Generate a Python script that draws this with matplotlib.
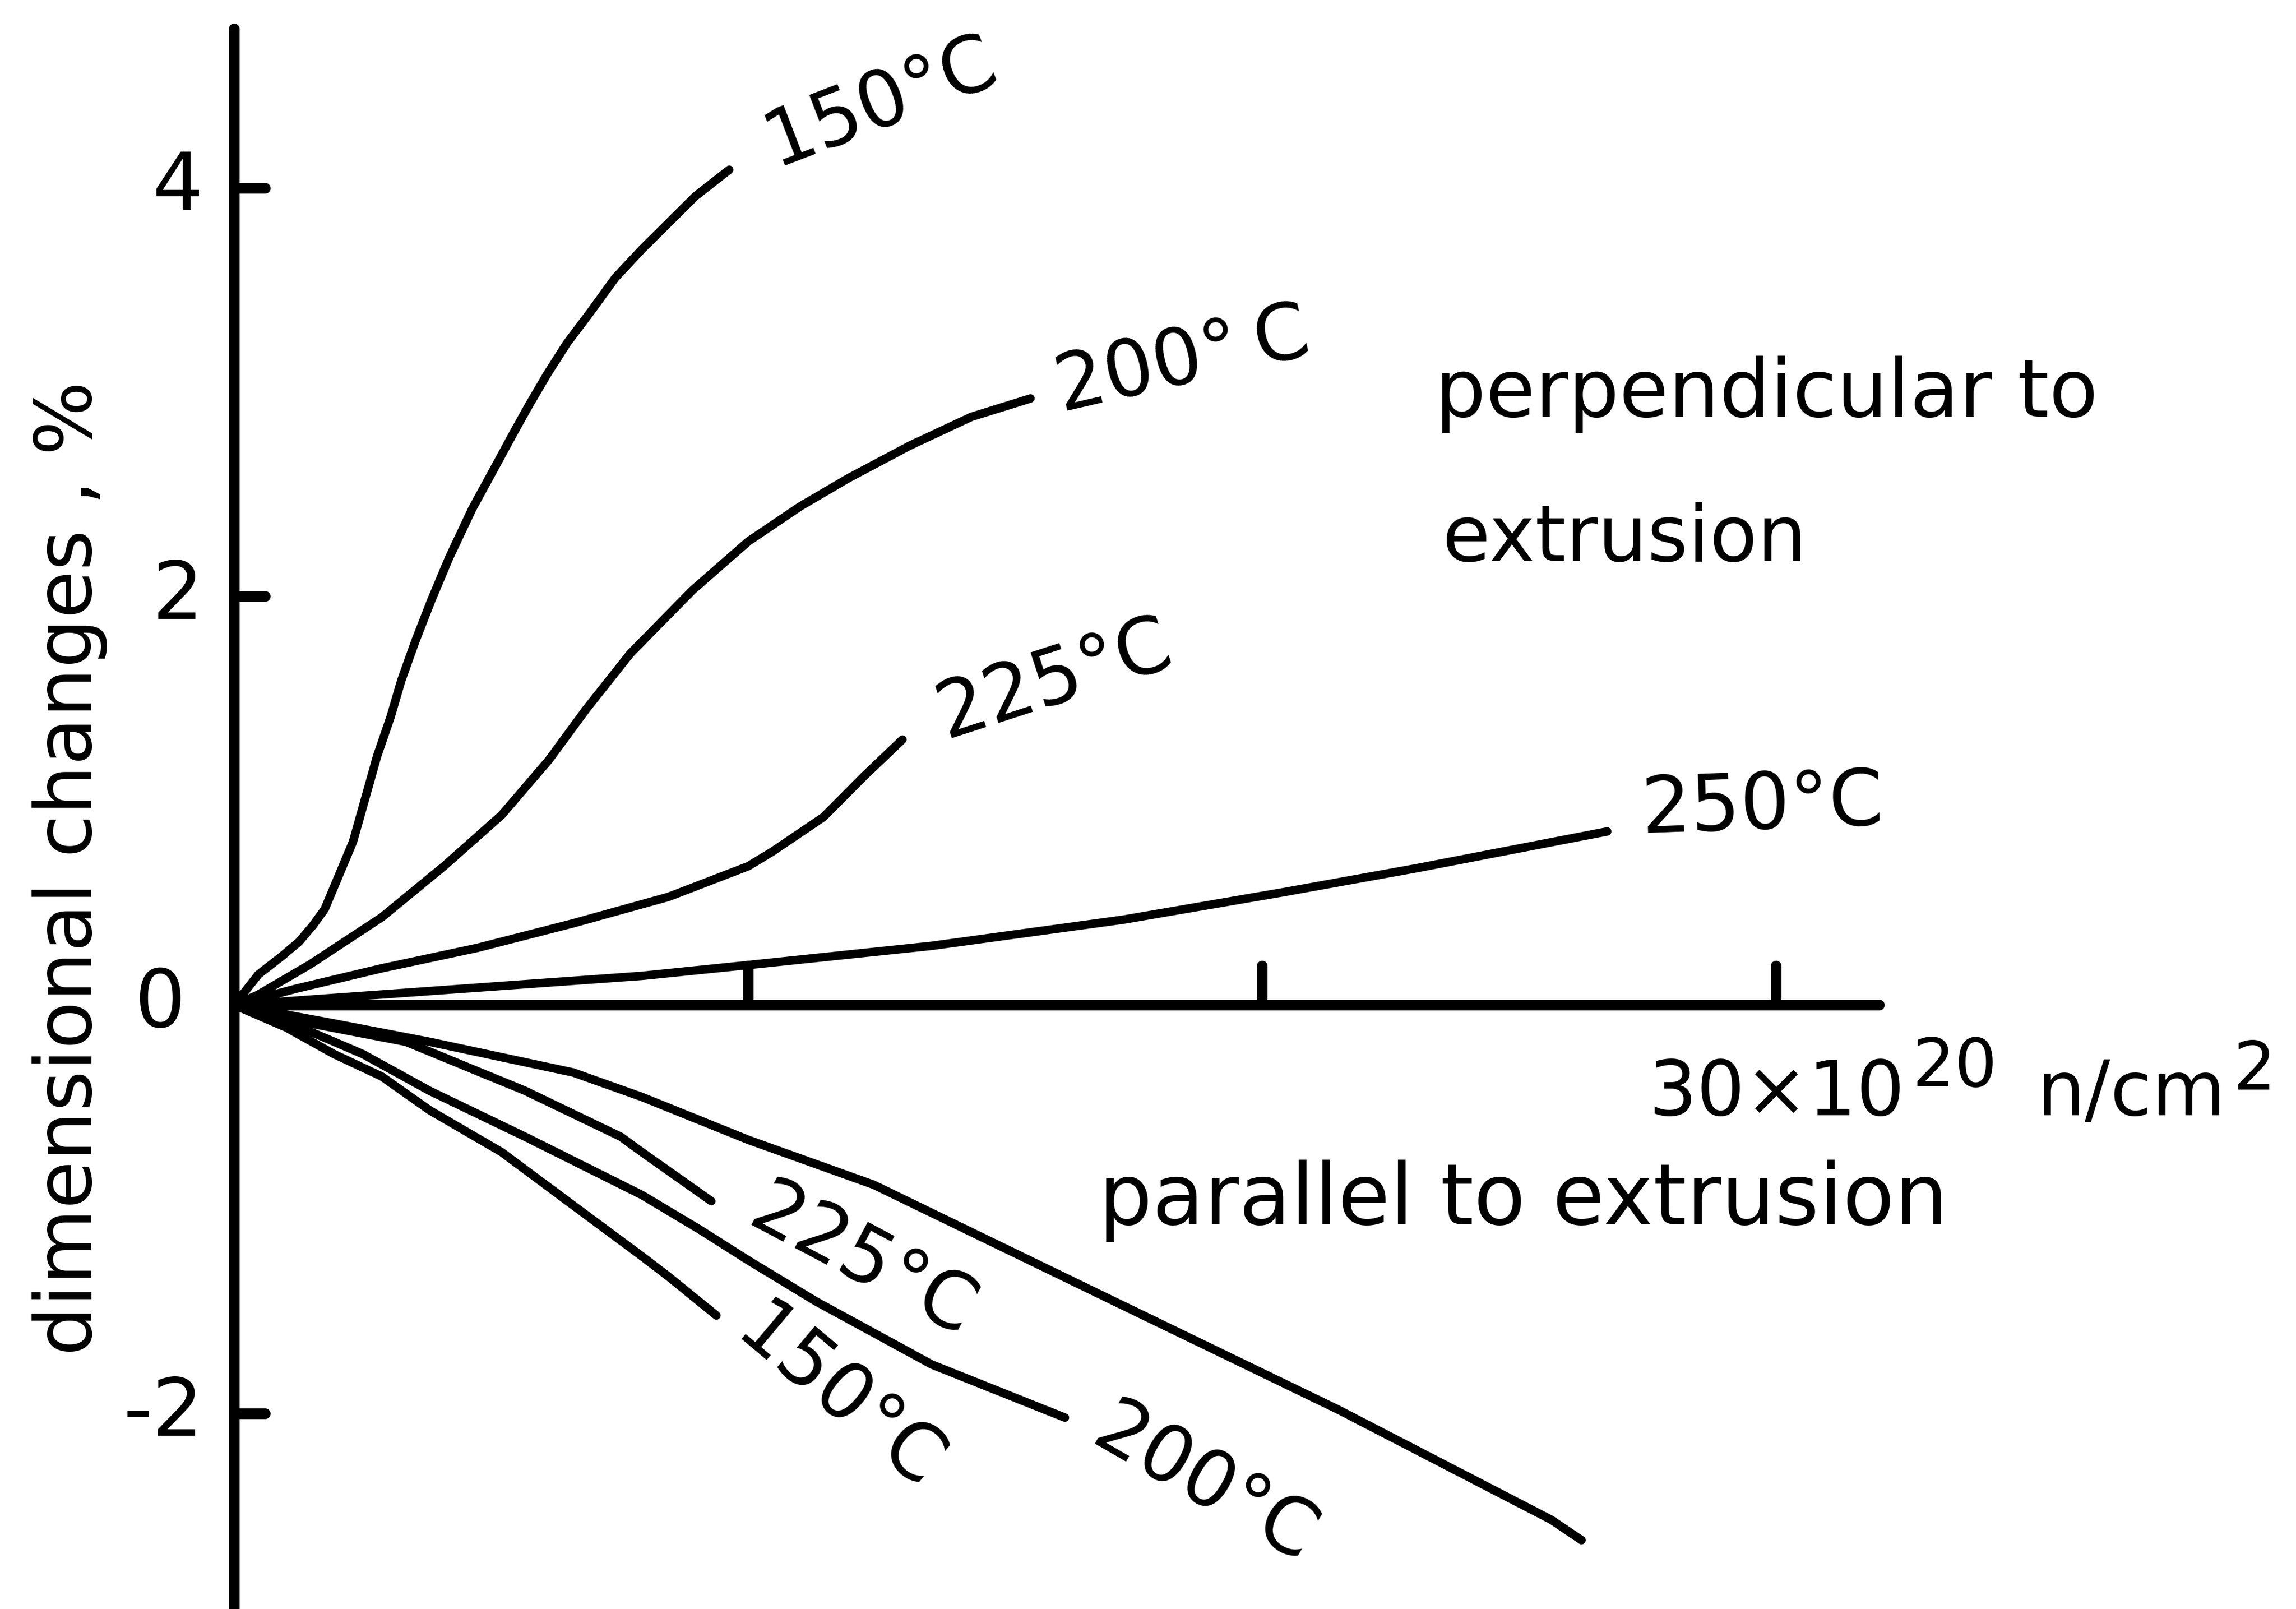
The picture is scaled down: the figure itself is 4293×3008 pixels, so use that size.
import matplotlib.pyplot as plt

# fluence in 10^20 n/cm^2, dimensional change in %
# perpendicular to extrusion
perp_150_x = [0, 0.47, 0.93, 1.26, 1.53, 1.76, 2.31, 2.78, 3.04, 3.25, 3.52, 3.83, 4.18, 4.63,
              5.15, 5.43, 5.74, 6.09, 6.47, 6.92, 7.41, 7.93, 8.45, 8.97, 9.63]
perp_150_y = [0, 0.15, 0.24, 0.31, 0.39, 0.47, 0.80, 1.22, 1.41, 1.59, 1.78, 1.98, 2.19, 2.43,
              2.67, 2.80, 2.94, 3.09, 3.24, 3.39, 3.56, 3.70, 3.83, 3.96, 4.09]

perp_200_x = [0, 0.46, 1.48, 2.87, 4.08, 5.20, 6.12, 6.85, 7.70, 8.91, 10.0, 11.0, 11.95, 13.15, 14.34, 15.49]
perp_200_y = [0, 0.05, 0.20, 0.43, 0.68, 0.93, 1.20, 1.45, 1.72, 2.03, 2.27, 2.44, 2.58, 2.74, 2.88, 2.97]

perp_225_x = [0, 1.20, 2.87, 4.73, 6.59, 8.45, 10.0, 10.46, 11.46, 12.25, 13.0]
perp_225_y = [0, 0.08, 0.18, 0.28, 0.40, 0.53, 0.68, 0.75, 0.92, 1.12, 1.30]

perp_250_x = [0, 7.93, 10.0, 13.57, 17.29, 20.42, 23.0, 26.71]
perp_250_y = [0, 0.143, 0.196, 0.29, 0.418, 0.553, 0.67, 0.85]

# parallel to extrusion
par_150_x = [0, 1.01, 1.94, 2.87, 3.80, 5.20, 6.59, 7.93, 8.45, 9.38]
par_150_y = [0, -0.11, -0.24, -0.35, -0.515, -0.72, -0.98, -1.23, -1.33, -1.52]

par_225_x = [0, 1.48, 3.34, 5.66, 7.52, 7.93, 9.28]
par_225_y = [0, -0.09, -0.18, -0.42, -0.645, -0.72, -0.96]

par_200_x = [0, 1.2, 2.50, 3.80, 5.66, 7.93, 9.06, 10.0, 11.31, 13.57, 16.16]
par_200_y = [0, -0.10, -0.24, -0.42, -0.645, -0.93, -1.10, -1.25, -1.45, -1.76, -2.02]

par_250_x = [0, 1.94, 3.80, 6.59, 7.93, 10.0, 12.44, 16.95, 21.47, 25.62, 26.21]
par_250_y = [0, -0.09, -0.18, -0.33, -0.45, -0.66, -0.88, -1.43, -1.98, -2.52, -2.62]

y_ticks = [4, 2, 0, -2]
y_tick_labels = ['4', '2', '0', '-2']
x_ticks = [10, 20, 30]

lw = 3.8
axis_lw = 4.8

fig = plt.figure(figsize=(4293 / 300, 3008 / 300), dpi=300)
ax = fig.add_axes([0, 0, 1, 1])
ax.set_xlim(-4.558, 40.11)
ax.set_ylim(-2.957, 4.921)
ax.axis('off')

# hand-drawn style axes
ax.plot([0, 0], [-2.96, 4.78], color='black', lw=axis_lw, solid_capstyle='round')
ax.plot([0, 32.0], [0, 0], color='black', lw=axis_lw, solid_capstyle='round')
for t in y_ticks:
    if t != 0:
        ax.plot([0, 0.6], [t, t], color='black', lw=axis_lw, solid_capstyle='round')
for t in x_ticks:
    ax.plot([t, t], [0, 0.19], color='black', lw=axis_lw, solid_capstyle='round')

for t, lab in zip(y_ticks, y_tick_labels):
    x = -0.95 if t == 0 else -0.6
    ax.text(x, t, lab, ha='right', va='center', fontsize=36)

curves = [
    (perp_150_x, perp_150_y), (perp_200_x, perp_200_y),
    (perp_225_x, perp_225_y), (perp_250_x, perp_250_y),
    (par_150_x, par_150_y), (par_225_x, par_225_y),
    (par_200_x, par_200_y), (par_250_x, par_250_y),
]
for xs, ys in curves:
    ax.plot(xs, ys, color='black', lw=lw, solid_capstyle='round', solid_joinstyle='round')

# curve labels
labels = [
    ('150°C', 12.58, 4.42, 21),
    ('200°\u2009C', 18.45, 3.15, 13),
    ('225°C', 15.96, 1.59, 18),
    ('250°C', 29.73, 0.97, 2),
    ('225°C', 12.22, -1.26, -28),
    ('150°C', 11.76, -1.93, -40),
    ('200°C', 18.87, -2.35, -30),
]
for text, x, y, rot in labels:
    ax.text(x, y, text, ha='center', va='center', rotation=rot,
            rotation_mode='anchor', fontsize=35)

ax.text(23.36, 2.99, 'perpendicular to', ha='left', va='center', fontsize=36)
ax.text(23.5, 2.28, 'extrusion', ha='left', va='center', fontsize=35)
ax.text(16.81, -0.96, 'parallel to extrusion', ha='left', va='center', fontsize=38)

# fluence unit, written piece by piece so the exponents stay large
ax.text(32.5, -0.539, '30×10', ha='right', va='baseline', fontsize=34)
ax.text(32.65, -0.397, '20', ha='left', va='baseline', fontsize=30)
ax.text(35.07, -0.539, 'n/cm', ha='left', va='baseline', fontsize=34)
ax.text(38.89, -0.414, '2', ha='left', va='baseline', fontsize=30)

ax.text(-3.2, 0.67, 'dimensional changes , %', ha='center', va='center',
        rotation=90, fontsize=35)

fig.savefig('out.png', dpi=300)
